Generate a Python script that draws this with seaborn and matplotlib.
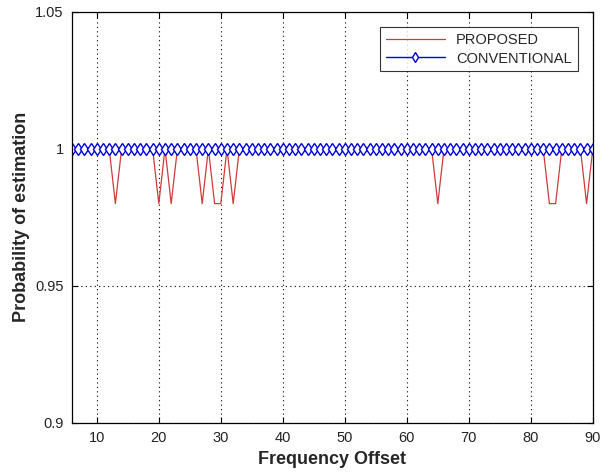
import matplotlib
matplotlib.use("Agg")
import matplotlib.pyplot as plt
import numpy as np
import pandas as pd
import seaborn as sns

# frequency offsets 6..90
freq_offset = list(range(6, 91))

# proposed: 1 everywhere except a few misses
dip_offsets = [13, 20, 22, 27, 29, 30, 32, 65, 83, 84, 89]
proposed = [0.98 if f in dip_offsets else 1.0 for f in freq_offset]
conventional = [1.0] * len(freq_offset)

df = pd.DataFrame({"offset": freq_offset, "PROPOSED": proposed,
                   "CONVENTIONAL": conventional})

sns.set_style("white")
plt.rcParams['font.family'] = ['Liberation Sans', 'DejaVu Sans']

fig = plt.figure(figsize=(6, 4.75), dpi=100)
ax = fig.add_axes([0.12, 0.11, 0.868, 0.865])

sns.lineplot(data=df, x="offset", y="PROPOSED", ax=ax, color="#d03a3a",
             linewidth=0.9, label="PROPOSED")
sns.lineplot(data=df, x="offset", y="CONVENTIONAL", ax=ax, color="#0000d8",
             linewidth=1.0, marker="d", markersize=6.5, markerfacecolor="white",
             markeredgecolor="#0000d8", markeredgewidth=1.0,
             label="CONVENTIONAL")

ax.set_xlim(6, 90)
ax.set_ylim(0.9, 1.05)
ax.set_xticks(range(10, 91, 10))
ax.set_yticks([0.9, 0.95, 1.0, 1.05])
ax.set_yticklabels(["0.9", "0.95", "1", "1.05"])
ax.tick_params(direction="in", length=4, labelsize=10.5, color="black",
               labelcolor="#222222", pad=6,
               top=True, right=True, bottom=True, left=True)
ax.grid(True, linestyle=(0, (1, 3)), color="black", linewidth=0.8)
for s in ax.spines.values():
    s.set_color("black")
    s.set_linewidth(0.9)

ax.set_xlabel("Frequency Offset", fontsize=13, fontweight="bold", labelpad=4)
ax.set_ylabel("Probability of estimation", fontsize=13, fontweight="bold",
              labelpad=4)

leg = ax.legend(loc="upper right", fontsize=10.5, handlelength=4,
                frameon=True, fancybox=False, borderpad=0.4,
                labelspacing=0.3, markerscale=0.8,
                bbox_to_anchor=(0.985, 0.98))
leg.get_frame().set_edgecolor("black")
leg.get_frame().set_linewidth(0.8)

fig.savefig("out.png", dpi=100)
